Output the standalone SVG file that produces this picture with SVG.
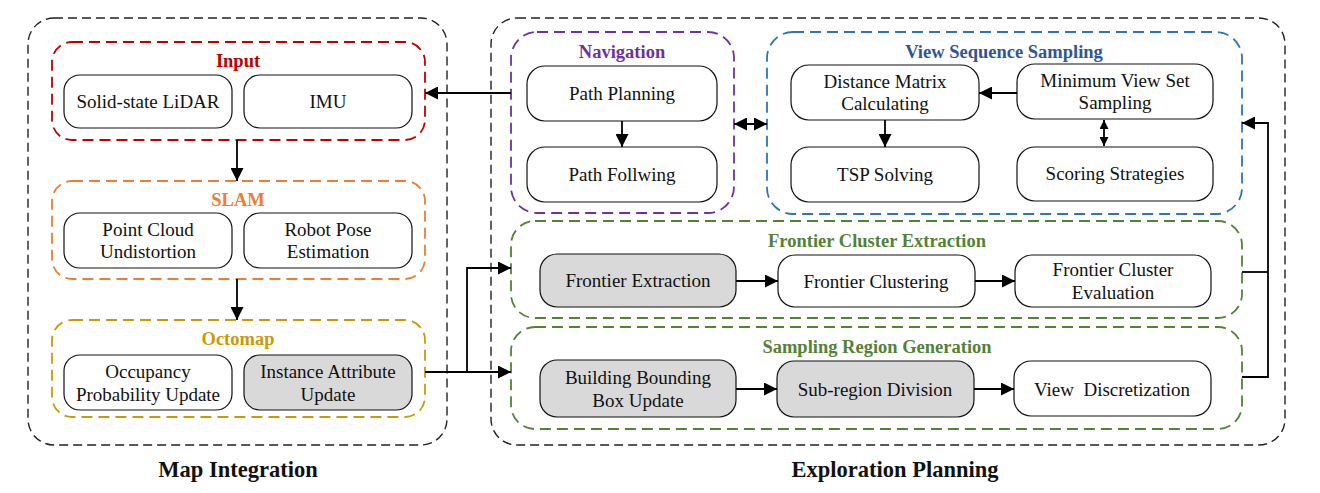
<svg xmlns="http://www.w3.org/2000/svg" width="1320" height="493" viewBox="0 0 1320 493">
<style>
.outer{fill:none;stroke:#222;stroke-width:1.4;stroke-dasharray:9 5}
.grp{fill:none;stroke-width:1.8;stroke-dasharray:11 6}
.node{fill:#fff;stroke:#111;stroke-width:1.2}
.gray{fill:#D9D9D9}
text{font-family:'Liberation Serif','Times New Roman','DejaVu Serif',serif}
.t{font-size:19px;fill:#111;text-anchor:middle}
.h{font-size:18.5px;font-weight:bold;text-anchor:middle}
.cap{font-size:22.5px;font-weight:bold;fill:#111;text-anchor:middle}
.c{fill:none;stroke:#000;stroke-width:1.8}
</style>
<defs>
<marker id="a" viewBox="0 0 10 10" refX="10" refY="5" markerWidth="13" markerHeight="13" orient="auto-start-reverse" markerUnits="userSpaceOnUse">
<path d="M0,0 L10,5 L0,10 Z" fill="#000"/>
</marker>
<marker id="as" viewBox="0 0 10 10" refX="10" refY="5" markerWidth="9" markerHeight="9" orient="auto-start-reverse" markerUnits="userSpaceOnUse">
<path d="M0,0 L10,5 L0,10 Z" fill="#000"/>
</marker>
</defs>

<g id="map-integration">
<rect class="outer" x="28" y="18" width="419" height="427" rx="26"/>
<text class="cap" x="238" y="477">Map Integration</text>
</g>
<g id="exploration-planning">
<rect class="outer" x="491" y="18" width="794" height="427" rx="26"/>
<text class="cap" x="895" y="477">Exploration Planning</text>
</g>

<g id="input">
<rect class="grp" x="52" y="42" width="373" height="98" rx="20" stroke="#C00000"/>
<text class="h" x="238" y="67" fill="#C00000">Input</text>
<g id="lidar"><rect class="node" x="64" y="75" width="168" height="53" rx="16"/><text class="t" x="148" y="108">Solid-state LiDAR</text></g>
<g id="imu"><rect class="node" x="244" y="75" width="168" height="53" rx="16"/><text class="t" x="328" y="108">IMU</text></g>
</g>

<g id="slam">
<rect class="grp" x="52" y="181" width="373" height="98" rx="20" stroke="#ED7D31"/>
<text class="h" x="238" y="206" fill="#ED7D31">SLAM</text>
<g id="pcu"><rect class="node" x="64" y="213" width="168" height="55" rx="16"/><text class="t" x="148" y="236">Point Cloud</text><text class="t" x="148" y="258">Undistortion</text></g>
<g id="rpe"><rect class="node" x="244" y="213" width="168" height="55" rx="16"/><text class="t" x="328" y="236">Robot Pose</text><text class="t" x="328" y="258">Estimation</text></g>
</g>

<g id="octomap">
<rect class="grp" x="52" y="320" width="373" height="97" rx="20" stroke="#C99A06"/>
<text class="h" x="238" y="345" fill="#C99A06">Octomap</text>
<g id="opu"><rect class="node" x="64" y="355" width="168" height="55" rx="16"/><text class="t" x="148" y="378">Occupancy</text><text class="t" x="148" y="401">Probability Update</text></g>
<g id="iau"><rect class="node gray" x="244" y="355" width="168" height="55" rx="16"/><text class="t" x="328" y="378">Instance Attribute</text><text class="t" x="328" y="401">Update</text></g>
</g>

<g id="navigation">
<rect class="grp" x="511" y="32" width="223" height="181" rx="26" stroke="#7030A0"/>
<text class="h" x="622" y="58" fill="#7030A0">Navigation</text>
<g id="pp"><rect class="node" x="527" y="66" width="190" height="55" rx="18"/><text class="t" x="622" y="100">Path Planning</text></g>
<g id="pf"><rect class="node" x="527" y="147" width="190" height="55" rx="18"/><text class="t" x="622" y="181">Path Follwing</text></g>
</g>

<g id="view-sequence-sampling">
<rect class="grp" x="767" y="32" width="475" height="182" rx="26" stroke="#2E75B6"/>
<text class="h" x="1004" y="58" fill="#2F5597">View Sequence Sampling</text>
<g id="dmc"><rect class="node" x="791" y="65" width="188" height="55" rx="18"/><text class="t" x="885" y="88">Distance Matrix</text><text class="t" x="885" y="110">Calculating</text></g>
<g id="mvs"><rect class="node" x="1017" y="64" width="196" height="55" rx="18"/><text class="t" x="1115" y="87">Minimum View Set</text><text class="t" x="1115" y="109">Sampling</text></g>
<g id="tsp"><rect class="node" x="791" y="147" width="188" height="55" rx="18"/><text class="t" x="885" y="181">TSP Solving</text></g>
<g id="ss"><rect class="node" x="1017" y="147" width="196" height="54" rx="18"/><text class="t" x="1115" y="180">Scoring Strategies</text></g>
</g>

<g id="frontier-cluster-extraction">
<rect class="grp" x="511" y="221" width="731" height="97" rx="24" stroke="#548235"/>
<text class="h" x="877" y="247" fill="#548235">Frontier Cluster Extraction</text>
<g id="fe"><rect class="node gray" x="540" y="254" width="196" height="53" rx="17"/><text class="t" x="638" y="287">Frontier Extraction</text></g>
<g id="fc"><rect class="node" x="778" y="255" width="197" height="52" rx="17"/><text class="t" x="876" y="288">Frontier Clustering</text></g>
<g id="fce"><rect class="node" x="1015" y="255" width="196" height="52" rx="17"/><text class="t" x="1113" y="276">Frontier Cluster</text><text class="t" x="1113" y="299">Evaluation</text></g>
</g>

<g id="sampling-region-generation">
<rect class="grp" x="511" y="327" width="731" height="102" rx="24" stroke="#548235"/>
<text class="h" x="877" y="353" fill="#548235">Sampling Region Generation</text>
<g id="bbbu"><rect class="node gray" x="540" y="360" width="196" height="57" rx="17"/><text class="t" x="638" y="384">Building Bounding</text><text class="t" x="638" y="407">Box Update</text></g>
<g id="srd"><rect class="node gray" x="777" y="361" width="197" height="56" rx="17"/><text class="t" x="875" y="396">Sub-region Division</text></g>
<g id="vd"><rect class="node" x="1014" y="361" width="197" height="55" rx="17"/><text class="t" x="1112" y="396" xml:space="preserve">View  Discretization</text></g>
</g>

<g id="connectors">
<path class="c" d="M237,140 V181" marker-end="url(#a)"/>
<path class="c" d="M237,279 V320" marker-end="url(#a)"/>
<path class="c" d="M511,93 H425" marker-end="url(#a)"/>
<path class="c" d="M622,121 V147" marker-end="url(#a)"/>
<path class="c" d="M734,124 H767" marker-start="url(#a)" marker-end="url(#a)"/>
<path class="c" d="M1017,93 H979" marker-end="url(#a)"/>
<path class="c" d="M885,120 V147" marker-end="url(#a)"/>
<path class="c" d="M1104,120 V146" marker-start="url(#as)" marker-end="url(#as)"/>
<path class="c" d="M736,281 H778" marker-end="url(#a)"/>
<path class="c" d="M975,281 H1015" marker-end="url(#a)"/>
<path class="c" d="M736,389 H777" marker-end="url(#a)"/>
<path class="c" d="M974,389 H1014" marker-end="url(#a)"/>
<path class="c" d="M425,372 H511" marker-end="url(#a)"/>
<path class="c" d="M467,372 V268 H511" marker-end="url(#a)"/>
<path class="c" d="M1242,272 H1268"/>
<path class="c" d="M1242,377 H1268 V123 H1242" marker-end="url(#a)"/>
</g>
</svg>
